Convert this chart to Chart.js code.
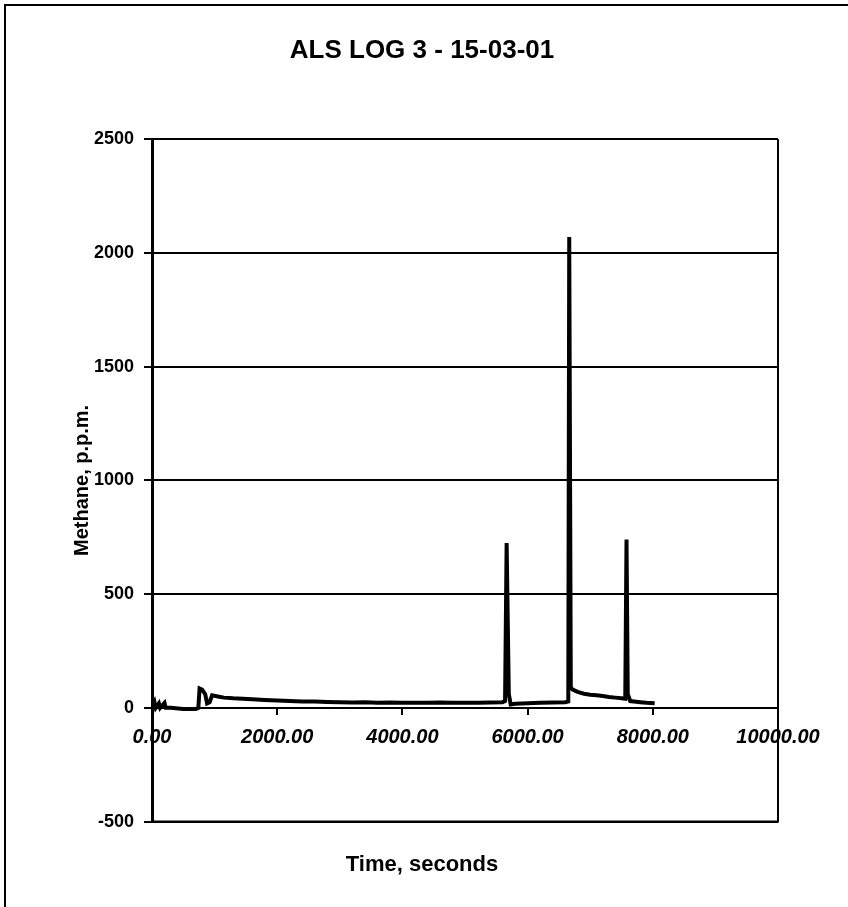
<!DOCTYPE html>
<html>
<head>
<meta charset="utf-8">
<script src="https://cdn.jsdelivr.net/npm/chart.js@4.4.1/dist/chart.umd.min.js"></script>
<style>
  html, body { margin: 0; padding: 0; background: #fff; }
  canvas { display: block; }
</style>
</head>
<body>
<canvas id="alsChart" width="848" height="907"></canvas>
<script>
// ALS LOG 3 - methane trace
const timeSec = [
    0, 40, 60, 110, 130, 200, 220, 300, 500, 700, 740, 760, 800, 850, 880, 920, 960,
    1050, 1150, 1300, 1450, 1600, 1800, 2000, 2200, 2400, 2600, 2800, 3000, 3200,
    3400, 3600, 3800, 4000, 4200, 4400, 4600, 4800, 5000, 5200, 5400, 5600, 5640,
    5665, 5700, 5730, 5800, 6000, 6200, 6400, 6600, 6650,
    6665, 6690, 6720, 6800, 6900, 7000, 7100, 7200, 7300, 7400, 7500, 7560,
    7580, 7600, 7640, 7700, 7800, 7900, 8030
];
const methanePpm = [
    0, 25, 0, 20, 0, 22, 0, 0, -5, -5, 0, 85, 80, 60, 20, 25, 55,
    50, 45, 42, 40, 38, 35, 32, 30, 28, 28, 26, 25, 24,
    25, 23, 24, 22, 23, 22, 24, 22, 23, 22, 24, 25, 30,
    725, 60, 15, 18, 20, 22, 24, 25, 28,
    2070, 90, 80, 70, 62, 58, 55, 52, 48, 45, 42, 40,
    740, 60, 30, 28, 25, 22, 20
];
const xTicks = [0, 2000, 4000, 6000, 8000, 10000];
const yTicks = [-500, 0, 500, 1000, 1500, 2000, 2500];

const FONT = '"Liberation Sans", Arial, sans-serif';

// marco exterior + borde del area de trazado
const framePlugin = {
    id: 'frame',
    afterDraw(chart) {
        const ctx = chart.ctx;
        const a = chart.chartArea;
        ctx.save();
        ctx.strokeStyle = '#000';
        ctx.lineWidth = 2;
        ctx.beginPath();
        ctx.moveTo(5, 907);
        ctx.lineTo(5, 5);
        ctx.lineTo(848, 5);
        ctx.stroke();
        ctx.beginPath();
        ctx.moveTo(a.left, a.bottom);
        ctx.lineTo(a.right, a.bottom);
        ctx.lineTo(a.right, a.top);
        ctx.stroke();
        ctx.restore();
    }
};

const ctx = document.getElementById('alsChart');
new Chart(ctx, {
    type: 'scatter',
    data: {
        datasets: [{
            label: 'Methane',
            data: timeSec.map((t, i) => ({ x: t, y: methanePpm[i] })),
            showLine: true,
            borderColor: '#000',
            borderWidth: 4,
            pointRadius: 0,
            tension: 0
        }]
    },
    options: {
        responsive: false,
        animation: false,
        devicePixelRatio: 1,
        layout: { padding: { left: 66, right: 70, top: 0, bottom: 10 } },
        plugins: {
            legend: { display: false },
            tooltip: { enabled: false },
            title: {
                display: true,
                text: 'ALS LOG 3 - 15-03-01',
                color: '#000',
                font: { family: FONT, size: 26, weight: 'bold' },
                padding: { top: 35, bottom: 73 }
            },
            subtitle: {
                display: true,
                position: 'bottom',
                text: 'Time, seconds',
                color: '#000',
                font: { family: FONT, size: 22, weight: 'bold' },
                padding: { top: 30, bottom: 19 }
            }
        },
        scales: {
            x: {
                type: 'linear',
                position: { y: 0 },
                min: xTicks[0],
                max: xTicks[xTicks.length - 1],
                afterBuildTicks: (scale) => { scale.ticks = xTicks.map(v => ({ value: v })); },
                ticks: {
                    color: '#000',
                    font: { family: FONT, size: 20, weight: 'bold', style: 'italic' },
                    padding: 12,
                    maxRotation: 0,
                    callback: (v) => Number(v).toFixed(2)
                },
                grid: { drawOnChartArea: false, drawTicks: true, tickLength: 6, color: '#000', lineWidth: 2 },
                border: { color: '#000', width: 2 }
            },
            y: {
                type: 'linear',
                position: 'left',
                min: yTicks[0],
                max: yTicks[yTicks.length - 1],
                afterBuildTicks: (scale) => { scale.ticks = yTicks.map(v => ({ value: v })); },
                afterFit: (scale) => { scale.width = 86; },
                ticks: {
                    color: '#000',
                    font: { family: FONT, size: 18, weight: 'bold' },
                    padding: 10,
                    callback: (v) => String(v)
                },
                title: {
                    display: true,
                    text: 'Methane, p.p.m.',
                    color: '#000',
                    font: { family: FONT, size: 20, weight: 'bold' },
                    padding: { top: 4, bottom: 4 }
                },
                grid: { color: '#000', lineWidth: 2, tickLength: 8 },
                border: { color: '#000', width: 3 }
            }
        }
    },
    plugins: [framePlugin]
});
</script>
</body>
</html>
